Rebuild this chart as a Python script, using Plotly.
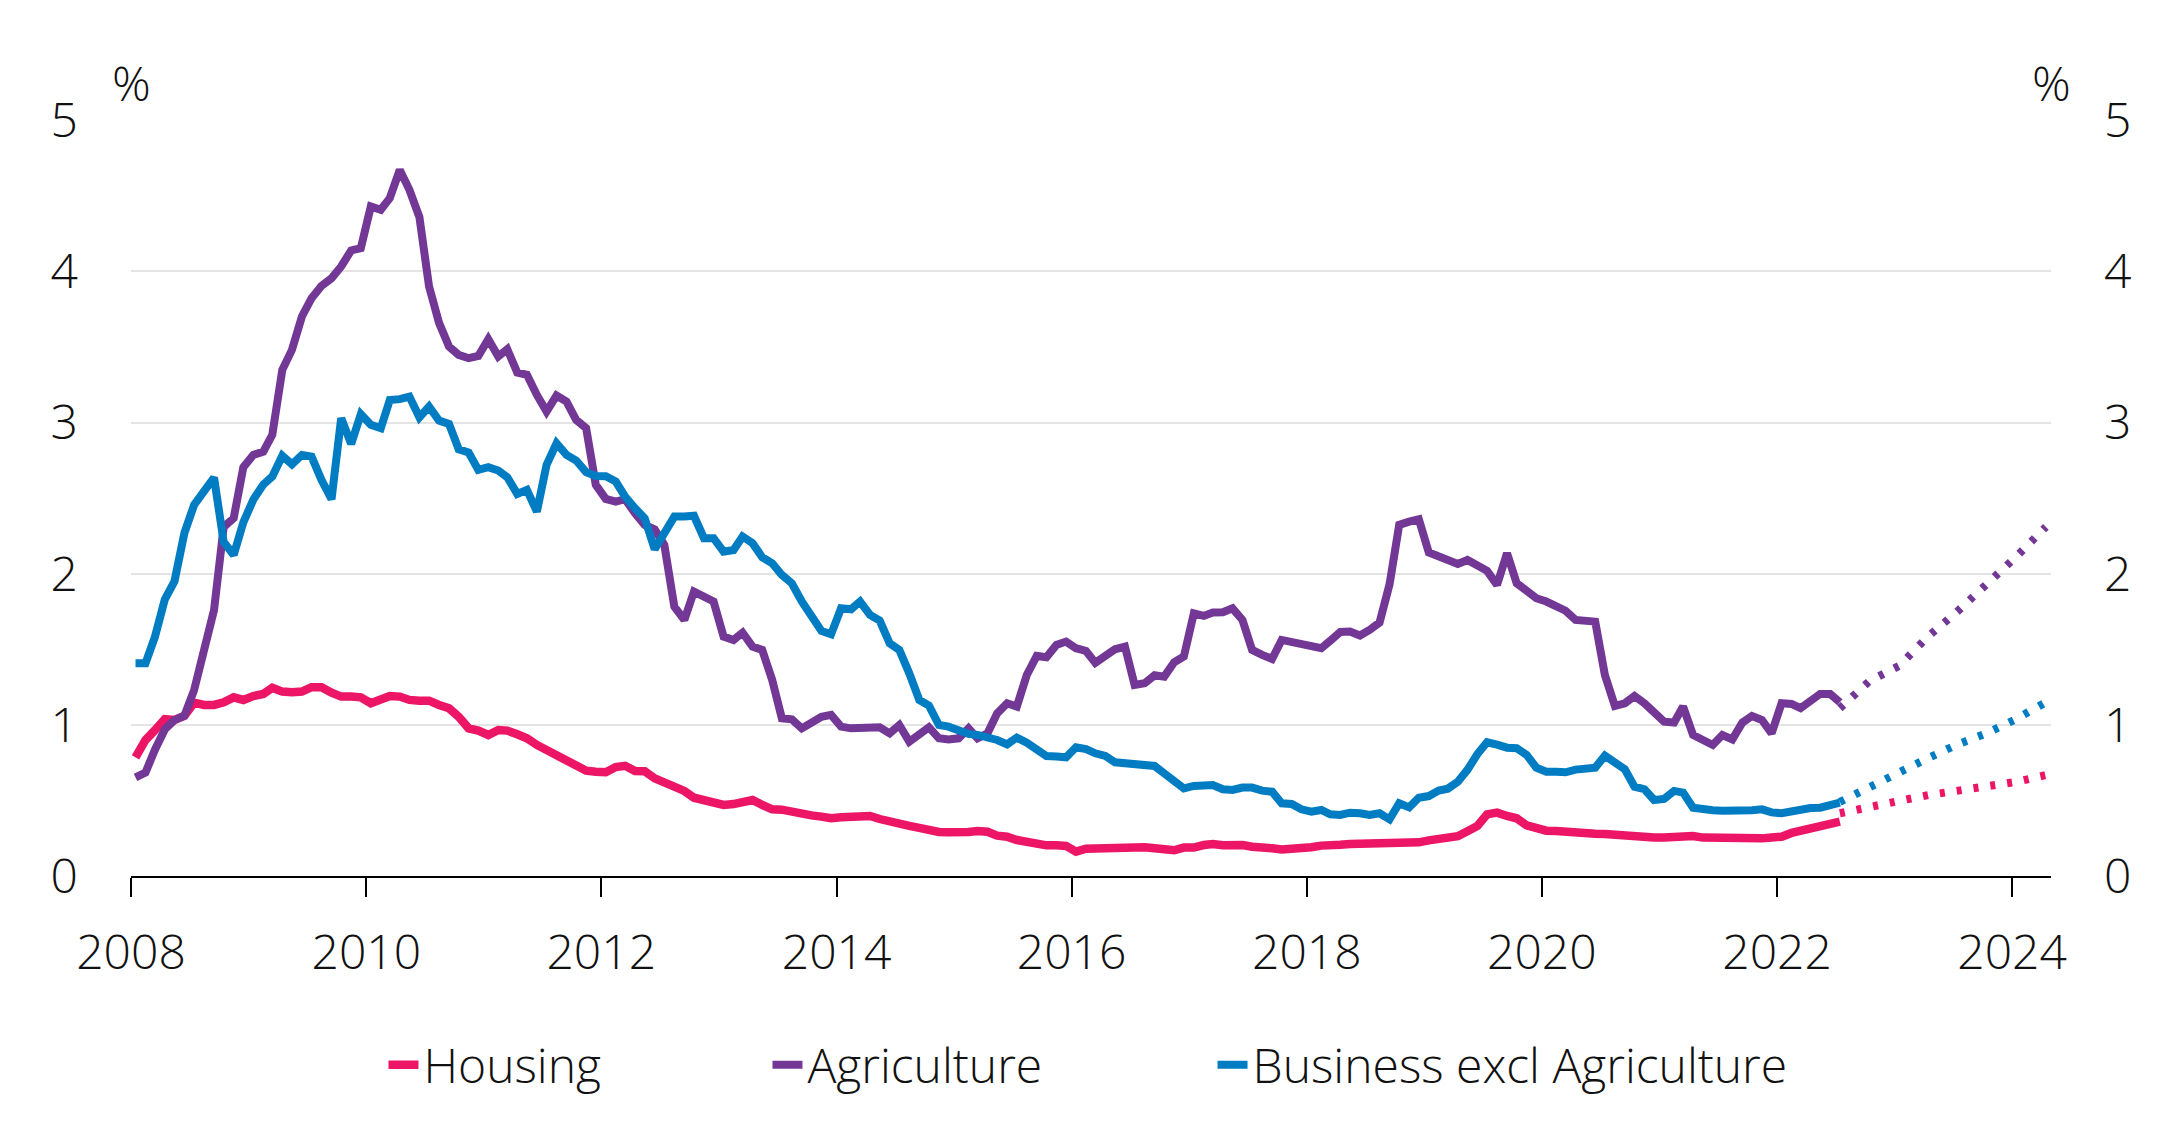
import pandas as pd
import plotly.graph_objects as go

# ---------------- data ----------------
dates = pd.date_range("2008-01-01", periods=175, freq="MS") + pd.Timedelta(days=14)

housing = [
    0.785, 0.90, 0.964, 1.037, 1.032, 1.06, 1.147, 1.132, 1.132, 1.149, 1.182, 1.165,
    1.191, 1.204, 1.246, 1.22, 1.216, 1.22, 1.249, 1.249, 1.213, 1.187, 1.187, 1.182,
    1.143, 1.165, 1.191, 1.187, 1.165, 1.16, 1.16, 1.132, 1.11, 1.054, 0.977, 0.962,
    0.933, 0.966, 0.962, 0.938, 0.911, 0.867, 0.834, 0.807, 0.763, 0.735, 0.697, 0.69,
    0.687, 0.721, 0.729, 0.695, 0.693, 0.646, 0.62, 0.602, 0.563, 0.518, 0.499, 0.476,
    0.47, 0.476, 0.485, 0.503, 0.47, 0.441, 0.439, 0.424, 0.404, 0.401, 0.393, 0.382,
    0.388, 0.393, 0.393, 0.397, 0.377, 0.366, 0.355, 0.331, 0.318, 0.302, 0.291, 0.289,
    0.287, 0.291, 0.298, 0.293, 0.267, 0.26, 0.238, 0.223, 0.216, 0.203, 0.203, 0.199,
    0.161, 0.18, 0.182, 0.184, 0.188, 0.188, 0.194, 0.19, 0.183, 0.174, 0.17, 0.188,
    0.188, 0.205, 0.212, 0.203, 0.207, 0.205, 0.194, 0.194, 0.183, 0.176, 0.176, 0.176,
    0.19, 0.201, 0.21, 0.207, 0.212, 0.214, 0.203, 0.212, 0.212, 0.212, 0.221, 0.223,
    0.236, 0.247, 0.249, 0.263, 0.296, 0.331, 0.408, 0.419, 0.397, 0.382, 0.335, 0.313,
    0.30, 0.298, 0.291, 0.287, 0.28, 0.28, 0.278, 0.271, 0.269, 0.265, 0.258, 0.254,
    0.254, 0.26, 0.26, 0.265, 0.254, 0.251, 0.251, 0.249, 0.249, 0.247, 0.249, 0.254,
    0.26, 0.285, 0.30, 0.313, 0.32, 0.344, 0.36,
]

agriculture = [
    0.653, 0.684, 0.834, 0.97, 1.032, 1.061, 1.23, 1.48, 1.76, 2.31, 2.367, 2.705,
    2.786, 2.808, 2.919, 3.349, 3.481, 3.702, 3.823, 3.905, 3.955, 4.033, 4.139, 4.154,
    4.43, 4.408, 4.485, 4.672, 4.54, 4.36, 3.90, 3.66, 3.503, 3.448, 3.426, 3.441,
    3.552, 3.437, 3.486, 3.331, 3.316, 3.183, 3.073, 3.179, 3.139, 3.018, 2.963, 2.588,
    2.495, 2.477, 2.493, 2.40, 2.323, 2.294, 2.19, 1.782, 1.694, 1.882, 1.849, 1.816,
    1.584, 1.562, 1.61, 1.518, 1.496, 1.297, 1.044, 1.037, 0.977, 1.01, 1.054, 1.066,
    0.988, 0.977, 0.982, 0.977, 0.984, 0.944, 0.999, 0.889, 0.944, 0.984, 0.911, 0.904,
    0.911, 0.977, 0.911, 0.944, 1.076, 1.143, 1.121, 1.33, 1.456, 1.447, 1.529, 1.551,
    1.507, 1.489, 1.41, 1.46, 1.5, 1.518, 1.264, 1.275, 1.328, 1.319, 1.414, 1.452,
    1.738, 1.721, 1.743, 1.745, 1.771, 1.694, 1.496, 1.463, 1.436, 1.562, 1.551, 1.535,
    1.518, 1.507, 1.557, 1.615, 1.617, 1.591, 1.628, 1.677, 1.93, 2.323, 2.345, 2.36,
    2.14, 2.118, 2.085, 2.065, 2.091, 2.058, 2.019, 1.926, 2.135, 1.937, 1.882, 1.838,
    1.816, 1.782, 1.755, 1.694, 1.69, 1.683, 1.33, 1.125, 1.143, 1.191, 1.143, 1.081,
    1.021, 1.015, 1.121, 0.933, 0.90, 0.867, 0.933, 0.904, 1.015, 1.059, 1.032, 0.944,
    1.143, 1.138, 1.11, 1.165, 1.205, 1.205, 1.15,
]

business = [
    1.407, 1.407, 1.58, 1.83, 1.95, 2.27, 2.455, 2.54, 2.636, 2.21, 2.124, 2.34,
    2.49, 2.59, 2.643, 2.78, 2.724, 2.786, 2.775, 2.62, 2.493, 3.029, 2.859, 3.055,
    2.985, 2.963, 3.15, 3.155, 3.172, 3.035, 3.106, 3.013, 2.991, 2.824, 2.802, 2.687,
    2.705, 2.683, 2.638, 2.528, 2.555, 2.411, 2.72, 2.863, 2.786, 2.749, 2.672, 2.647,
    2.645, 2.61, 2.51, 2.433, 2.367, 2.162, 2.263, 2.378, 2.378, 2.383, 2.235, 2.235,
    2.146, 2.157, 2.246, 2.202, 2.109, 2.069, 1.992, 1.937, 1.816, 1.716, 1.621, 1.599,
    1.771, 1.765, 1.816, 1.727, 1.69, 1.54, 1.496, 1.341, 1.165, 1.127, 0.999, 0.988,
    0.96, 0.94, 0.933, 0.922, 0.9, 0.871, 0.916, 0.882, 0.845, 0.794, 0.79, 0.785,
    0.852, 0.84, 0.812, 0.794, 0.752, 0.746, 0.741, 0.724, 0.728, 0.679, 0.629, 0.58,
    0.596, 0.602, 0.602, 0.574, 0.569, 0.585, 0.585, 0.565, 0.558, 0.481, 0.477, 0.441,
    0.426, 0.437, 0.408, 0.404, 0.419, 0.415, 0.404, 0.415, 0.375, 0.481, 0.454, 0.518,
    0.529, 0.565, 0.578, 0.624, 0.702, 0.807, 0.885, 0.869, 0.849, 0.845, 0.801, 0.717,
    0.69, 0.69, 0.686, 0.704, 0.708, 0.717, 0.796, 0.757, 0.706, 0.591, 0.574, 0.503,
    0.51, 0.563, 0.552, 0.452, 0.437, 0.435, 0.432, 0.43, 0.43, 0.435, 0.441, 0.421,
    0.415, 0.43, 0.448, 0.45, 0.452, 0.474, 0.485,
]

proj_dates = ["2022-07-15", "2022-10-15", "2023-01-15", "2023-04-15",
              "2023-07-15", "2023-10-15", "2024-01-15", "2024-04-15"]
housing_proj = [0.415, 0.46, 0.497, 0.535, 0.561, 0.585, 0.623, 0.668]
agriculture_proj = [1.11, 1.29, 1.39, 1.585, 1.75, 1.93, 2.115, 2.31]
business_proj = [0.49, 0.59, 0.685, 0.78, 0.87, 0.945, 1.04, 1.15]

series_names = ["Housing", "Agriculture", "Business excl Agriculture"]
x_ticks = ["2008", "2010", "2012", "2014", "2016", "2018", "2020", "2022", "2024"]
y_ticks = [0, 1, 2, 3, 4, 5]

# ---------------- style ----------------
PINK = "#EC1566"
PURPLE = "#733796"
BLUE = "#007CC3"
FONT = "Open Sans"
TXT = "#111111"
tick_font = dict(family=FONT, size=48, color=TXT, weight=300)
leg_font = dict(family=FONT, size=48, color=TXT, weight=300)

fig = go.Figure()

hist = [(housing, PINK, 8.5, "legend"), (agriculture, PURPLE, 8, "legend2"),
        (business, BLUE, 8, "legend3")]
for (vals, col, w, lg), name in zip(hist, series_names):
    fig.add_trace(go.Scatter(x=dates, y=vals, name=name, mode="lines",
                             line=dict(color=col, width=w), legend=lg))

proj = [(housing_proj, PINK), (agriculture_proj, PURPLE), (business_proj, BLUE)]
for (vals, col), name in zip(proj, series_names):
    fig.add_trace(go.Scatter(x=proj_dates, y=vals, name=name + " (projection)",
                             mode="lines", yaxis="y2", showlegend=False,
                             line=dict(color=col, width=8, dash="5px,12px")))

tickvals = [f"{y}-01-01" for y in x_ticks]
plot_l, plot_r, plot_t, plot_b = 131, 124, 120, 255

leg_common = dict(orientation="h", yanchor="middle", y=-0.25, xanchor="left",
                  font=leg_font, bgcolor="rgba(0,0,0,0)", borderwidth=0)

fig.update_layout(
    width=2175, height=1131,
    margin=dict(l=plot_l, r=plot_r, t=plot_t, b=plot_b, autoexpand=False),
    paper_bgcolor="white", plot_bgcolor="white",
    showlegend=True,
    xaxis=dict(type="date", range=["2008-01-01", "2024-05-01"],
               tickvals=tickvals, ticktext=x_ticks,
               ticks="outside", ticklen=19, tickwidth=2, tickcolor="black",
               showline=True, linecolor="black", linewidth=2,
               showgrid=False, zeroline=False, tickfont=tick_font,
               ticklabelstandoff=14),
    yaxis=dict(range=[0, 5.002], tickvals=y_ticks, showgrid=True,
               gridcolor="#e4e4e4", gridwidth=2, zeroline=False,
               showline=False, ticks="", tickfont=tick_font,
               ticklabelstandoff=52),
    yaxis2=dict(range=[0, 5.002], tickvals=y_ticks, overlaying="y", side="right",
                showgrid=False, zeroline=False, showline=False, ticks="",
                tickfont=tick_font, ticklabelstandoff=52),
    legend=dict(x=0.1315, **leg_common),
    legend2=dict(x=0.3315, **leg_common),
    legend3=dict(x=0.5633, **leg_common),
    annotations=[
        dict(text="%", x=0, y=1.05, xref="paper", yref="paper", showarrow=False,
             xanchor="center", yanchor="middle", font=tick_font),
        dict(text="%", x=1, y=1.05, xref="paper", yref="paper", showarrow=False,
             xanchor="center", yanchor="middle", font=tick_font),
    ],
)

fig.write_html("out.html")
